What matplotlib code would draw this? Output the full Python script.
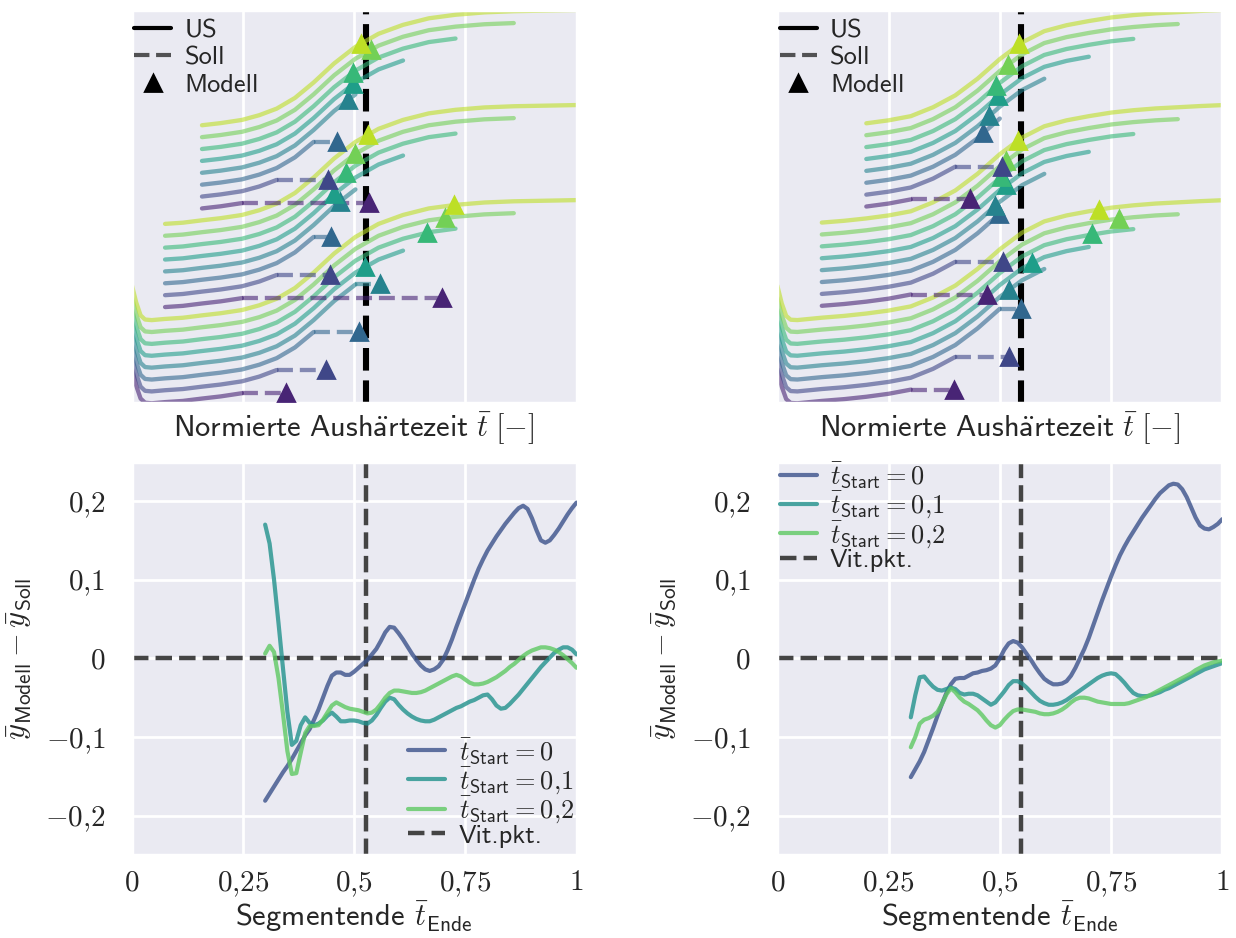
import numpy as np
import matplotlib
matplotlib.use("Agg")
import matplotlib.pyplot as plt
import seaborn as sns
from matplotlib.lines import Line2D

# ---------------------------------------------------------------------------
# Normalised ultrasound signal, left specimen
us_t_left = np.array([0.0, 0.01, 0.02, 0.03, 0.045, 0.075, 0.115, 0.158, 0.2, 0.248,
                      0.287, 0.326, 0.367, 0.409, 0.455, 0.503, 0.555, 0.61, 0.668,
                      0.728, 0.793, 0.859, 0.93, 1.0])
us_y_left = np.array([0.30, 0.15, 0.04, 0.005, 0.0, 0.01, 0.02, 0.04, 0.058, 0.085,
                      0.125, 0.18, 0.27, 0.40, 0.56, 0.70, 0.81, 0.885, 0.94,
                      0.97, 0.99, 1.0, 1.005, 1.01])
seg_start_left = [0.0, 0.075, 0.158]
seg_end_left = [0.248, 0.326, 0.409, 0.503, 0.61, 0.728, 0.859, 1.0]
t_vit_left = 0.527

# Normalised ultrasound signal, right specimen
us_t_right = np.array([0.0, 0.01, 0.02, 0.03, 0.045, 0.1, 0.15, 0.2, 0.25, 0.3, 0.35,
                       0.4, 0.45, 0.5, 0.55, 0.6, 0.65, 0.7, 0.75, 0.8, 0.85, 0.9,
                       0.95, 1.0])
us_y_right = np.array([0.29, 0.14, 0.035, 0.003, 0.0, 0.02, 0.035, 0.055, 0.08, 0.115,
                       0.19, 0.29, 0.43, 0.595, 0.735, 0.83, 0.88, 0.915, 0.945,
                       0.965, 0.98, 0.99, 1.0, 1.008])
seg_start_right = [0.0, 0.1, 0.2]
seg_end_right = [0.3, 0.4, 0.5, 0.6, 0.7, 0.8, 0.9, 1.0]
t_vit_right = 0.547

# Segment ends at which the model error is evaluated
t_ende = np.round(np.linspace(0.30, 1.00, 71), 2)
t_ende_marks = [0.3, 0.4, 0.5, 0.6, 0.7, 0.8, 0.9, 1.0]

# Model error y_Modell - y_Soll, left specimen (t_Start = 0 / 0,1 / 0,2)
err_left_0 = [-0.181, -0.172, -0.163, -0.154, -0.145, -0.137, -0.128, -0.118, -0.108, -0.098,
              -0.090, -0.078, -0.065, -0.050, -0.035, -0.022, -0.018, -0.018, -0.021, -0.021,
              -0.017, -0.012, -0.007, -0.002, 0.005, 0.012, 0.022, 0.033, 0.040, 0.039,
              0.032, 0.024, 0.015, 0.006, -0.002, -0.009, -0.014, -0.016, -0.014, -0.010,
              -0.002, 0.010, 0.024, 0.040, 0.055, 0.070, 0.085, 0.100, 0.114, 0.126,
              0.137, 0.146, 0.155, 0.163, 0.171, 0.178, 0.185, 0.191, 0.194, 0.190,
              0.178, 0.163, 0.150, 0.147, 0.150, 0.157, 0.165, 0.174, 0.183, 0.191,
              0.198]
err_left_1 = [0.170, 0.146, 0.100, 0.045, -0.012, -0.068, -0.110, -0.105, -0.085, -0.075,
              -0.082, -0.085, -0.083, -0.079, -0.073, -0.069, -0.074, -0.080, -0.080, -0.079,
              -0.079, -0.080, -0.082, -0.083, -0.079, -0.072, -0.063, -0.055, -0.050, -0.052,
              -0.059, -0.065, -0.070, -0.074, -0.077, -0.079, -0.080, -0.080, -0.078, -0.075,
              -0.072, -0.069, -0.066, -0.063, -0.061, -0.058, -0.055, -0.053, -0.050, -0.047,
              -0.046, -0.052, -0.060, -0.064, -0.063, -0.058, -0.052, -0.046, -0.039, -0.032,
              -0.025, -0.018, -0.011, -0.005, 0.001, 0.007, 0.011, 0.014, 0.014, 0.011,
              0.005]
err_left_2 = [0.006, 0.016, 0.008, -0.025, -0.070, -0.118, -0.147, -0.146, -0.120, -0.095,
              -0.086, -0.086, -0.085, -0.078, -0.069, -0.060, -0.056, -0.059, -0.062, -0.064,
              -0.065, -0.066, -0.068, -0.070, -0.069, -0.065, -0.058, -0.050, -0.044, -0.041,
              -0.041, -0.042, -0.043, -0.044, -0.044, -0.043, -0.041, -0.038, -0.035, -0.032,
              -0.029, -0.026, -0.023, -0.021, -0.023, -0.027, -0.031, -0.033, -0.033, -0.032,
              -0.030, -0.027, -0.024, -0.020, -0.016, -0.011, -0.007, -0.002, 0.003, 0.007,
              0.010, 0.012, 0.014, 0.014, 0.013, 0.011, 0.008, 0.004, -0.001, -0.006,
              -0.012]

# Model error y_Modell - y_Soll, right specimen
err_right_0 = [-0.151, -0.141, -0.131, -0.119, -0.104, -0.089, -0.073, -0.058, -0.044, -0.033,
               -0.026, -0.025, -0.025, -0.022, -0.019, -0.018, -0.016, -0.015, -0.013, -0.009,
               0.000, 0.011, 0.019, 0.022, 0.020, 0.014, 0.006, -0.002, -0.011, -0.019,
               -0.026, -0.030, -0.033, -0.033, -0.032, -0.029, -0.022, -0.012, 0.000, 0.012,
               0.026, 0.042, 0.058, 0.074, 0.089, 0.104, 0.118, 0.131, 0.142, 0.152,
               0.161, 0.170, 0.179, 0.187, 0.195, 0.203, 0.210, 0.215, 0.220, 0.222,
               0.221, 0.215, 0.205, 0.192, 0.179, 0.169, 0.165, 0.164, 0.167, 0.171,
               0.177]
err_right_1 = [-0.075, -0.047, -0.024, -0.023, -0.030, -0.036, -0.040, -0.041, -0.039, -0.037,
               -0.039, -0.044, -0.046, -0.045, -0.045, -0.047, -0.051, -0.055, -0.059, -0.056,
               -0.049, -0.042, -0.034, -0.029, -0.029, -0.032, -0.037, -0.043, -0.049, -0.054,
               -0.057, -0.059, -0.059, -0.058, -0.056, -0.053, -0.049, -0.045, -0.041, -0.037,
               -0.033, -0.029, -0.025, -0.022, -0.020, -0.019, -0.020, -0.025, -0.031, -0.038,
               -0.044, -0.047, -0.048, -0.048, -0.047, -0.045, -0.043, -0.040, -0.038, -0.035,
               -0.032, -0.029, -0.026, -0.023, -0.020, -0.017, -0.014, -0.012, -0.010, -0.008,
               -0.006]
err_right_2 = [-0.113, -0.100, -0.083, -0.078, -0.076, -0.073, -0.068, -0.058, -0.046, -0.038,
               -0.043, -0.050, -0.055, -0.058, -0.062, -0.066, -0.072, -0.079, -0.085, -0.088,
               -0.085, -0.078, -0.072, -0.067, -0.065, -0.065, -0.066, -0.067, -0.068, -0.070,
               -0.071, -0.071, -0.070, -0.068, -0.065, -0.061, -0.056, -0.052, -0.050, -0.050,
               -0.051, -0.053, -0.055, -0.056, -0.057, -0.058, -0.058, -0.058, -0.058, -0.057,
               -0.055, -0.053, -0.051, -0.049, -0.046, -0.043, -0.040, -0.037, -0.034, -0.031,
               -0.028, -0.025, -0.022, -0.019, -0.015, -0.012, -0.009, -0.007, -0.005, -0.004,
               -0.003]

start_labels = [r"$\bar{t}_\mathsf{Start} = 0$",
                r"$\bar{t}_\mathsf{Start} = 0{,}1$",
                r"$\bar{t}_\mathsf{Start} = 0{,}2$"]
x_ticks = [0, 0.25, 0.5, 0.75, 1.0]
x_ticklabels = [r"$0$", r"$0{,}25$", r"$0{,}5$", r"$0{,}75$", r"$1$"]
y_ticks = [-0.2, -0.1, 0.0, 0.1, 0.2]
y_ticklabels = [r"$-0{,}2$", r"$-0{,}1$", r"$0$", r"$0{,}1$", r"$0{,}2$"]

# ---------------------------------------------------------------------------
sns.set_theme(style="darkgrid")
plt.rcParams["font.family"] = ["cmss10", "DejaVu Sans"]
plt.rcParams["mathtext.fontset"] = "cm"
plt.rcParams["axes.unicode_minus"] = True
plt.rcParams["axes.labelsize"] = 11
plt.rcParams["xtick.labelsize"] = 10.5
plt.rcParams["ytick.labelsize"] = 10.5
plt.rcParams["legend.fontsize"] = 9.5
plt.rcParams["grid.linewidth"] = 1.0

W, H = 1236, 938
fig = plt.figure(figsize=(W / 200, H / 200), dpi=200)


def add_axes_px(left, top, right, bottom):
    return fig.add_axes([left / W, 1 - bottom / H, (right - left) / W, (bottom - top) / H])


ax_tl = add_axes_px(131.7, 10, 576.5, 403.3)
ax_tr = add_axes_px(777.3, 10, 1222.3, 403.3)
ax_bl = add_axes_px(131.7, 461.7, 576.5, 855)
ax_br = add_axes_px(777.3, 461.7, 1222.3, 855)

STACK = 0.1  # vertical spacing between stacked segments


def draw_segments(ax, t_us, y_us, starts, ends, errors, t_vit):
    colors = plt.cm.viridis(np.linspace(0.1, 0.9, len(ends)))
    ax.axvline(t_vit, color="black", ls="--", lw=2.2, zorder=1.5)
    k = 0
    for g, s in enumerate(starts):
        err = np.asarray(errors[g])
        for j, e in enumerate(ends):
            off = k * STACK
            m = (t_us >= s - 1e-9) & (t_us <= e + 1e-9)
            ax.plot(t_us[m], y_us[m] + off, color=colors[j], alpha=0.6, lw=1.55,
                    solid_capstyle="round", zorder=2)
            t_pred = t_vit + err[np.isclose(t_ende, t_ende_marks[j])][0]
            y_last = y_us[m][-1] + off
            if t_pred > e:
                ax.plot([e, t_pred], [y_last, y_last], ls="--", color=colors[j],
                        alpha=0.6, lw=1.55, zorder=2)
                y_pred = y_last
            else:
                y_pred = np.interp(t_pred, t_us, y_us) + off
            ax.plot([t_pred], [y_pred], marker="^", ls="none", color=colors[j],
                    ms=5.5, zorder=4)
            k += 1
    ax.set_xlim(0, 1)
    ax.set_ymargin(0.0)
    ax.autoscale(axis="y", tight=True)
    ax.set_xticks([0.25, 0.5, 0.75])
    ax.tick_params(labelbottom=False)
    ax.set_yticks([])
    ax.set_xlabel(r"$\mathsf{Normierte\ Aush\ddot{a}rtezeit}\ \bar{t}\;[-]$")
    ax.xaxis.set_label_coords(0.5, -0.018)
    handles = [Line2D([], [], color="black", lw=1.5),
               Line2D([], [], color="black", alpha=0.65, ls="--", lw=1.5),
               Line2D([], [], color="black", marker="^", ls="none", ms=5.5)]
    ax.legend(handles, ["US", "Soll", "Modell"], loc="upper left", frameon=False,
              bbox_to_anchor=(0.0, 0.985), borderaxespad=0.05, borderpad=0.05,
              handlelength=1.4, handletextpad=0.5, labelspacing=0.15)


def draw_errors(ax, errors, t_vit, legend_loc, anchor):
    cols = plt.cm.viridis([0.25, 0.5, 0.75])
    for err, c, lab in zip(errors, cols, start_labels):
        ax.plot(t_ende, err, color=c, alpha=0.8, lw=1.5, label=lab, zorder=3)
    ax.axhline(0, color="#444444", ls="--", lw=1.6, zorder=2)
    ax.axvline(t_vit, color="#444444", ls="--", lw=1.6, zorder=2, label="Vit.pkt.")
    ax.set_xlim(0, 1)
    ax.set_ylim(-0.25, 0.25)
    ax.set_xticks(x_ticks)
    ax.set_xticklabels(x_ticklabels)
    ax.set_yticks(y_ticks)
    ax.set_yticklabels(y_ticklabels)
    ax.tick_params(axis="x", pad=-0.8)
    ax.set_xlabel(r"Segmentende $\bar{t}_\mathsf{Ende}$")
    ax.xaxis.set_label_coords(0.5, -0.113)
    ax.set_ylabel(r"$\bar{y}_\mathsf{Modell} - \bar{y}_\mathsf{Soll}$", labelpad=4)
    ax.legend(loc=legend_loc, bbox_to_anchor=anchor, frameon=False,
              borderaxespad=0.05, borderpad=0.05, handlelength=1.4,
              handletextpad=0.5, labelspacing=-0.04)


draw_segments(ax_tl, us_t_left, us_y_left, seg_start_left, seg_end_left,
              [err_left_0, err_left_1, err_left_2], t_vit_left)
draw_segments(ax_tr, us_t_right, us_y_right, seg_start_right, seg_end_right,
              [err_right_0, err_right_1, err_right_2], t_vit_right)
draw_errors(ax_bl, [err_left_0, err_left_1, err_left_2], t_vit_left,
            "lower right", (1.0, 0.012))
draw_errors(ax_br, [err_right_0, err_right_1, err_right_2], t_vit_right,
            "upper left", (0.0, 1.01))

fig.savefig("out.png", dpi=200)
